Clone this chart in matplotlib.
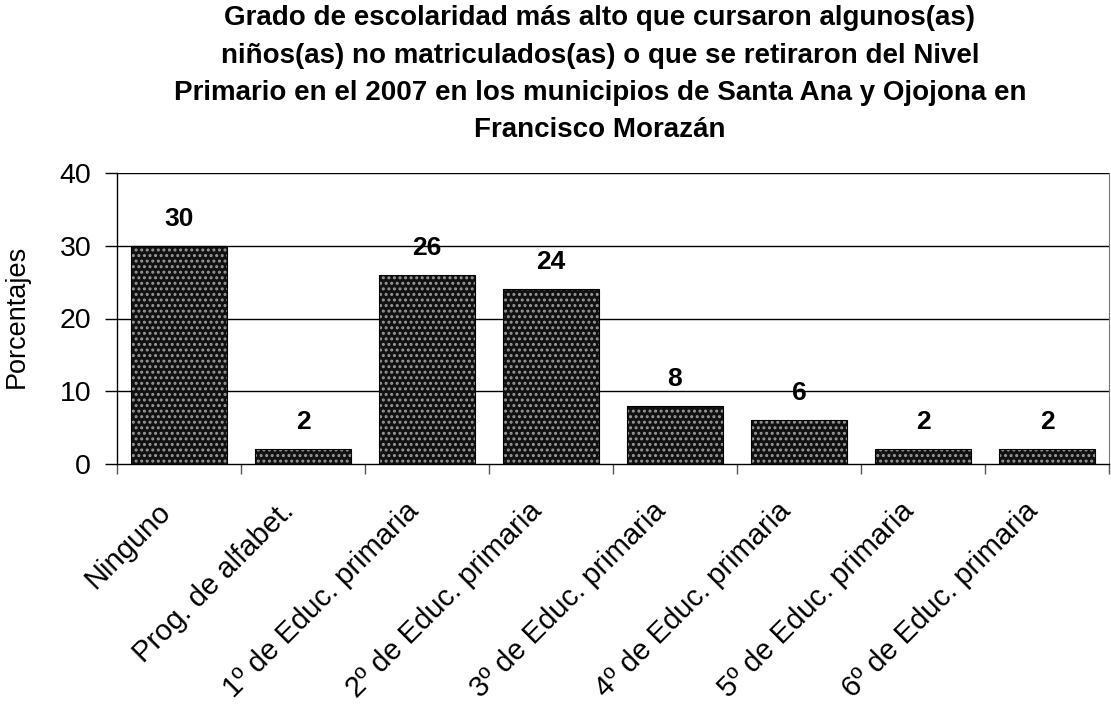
import matplotlib.pyplot as plt
import matplotlib.transforms as mtransforms
import numpy as np

plt.rcParams['font.family'] = ['Liberation Sans', 'DejaVu Sans']
plt.rcParams['hatch.linewidth'] = 1.4

categorias = ['Ninguno', 'Prog. de alfabet.', '1º de Educ. primaria', '2º de Educ. primaria',
              '3º de Educ. primaria', '4º de Educ. primaria', '5º de Educ. primaria',
              '6º de Educ. primaria']
porcentajes = [30, 2, 26, 24, 8, 6, 2, 2]

titulo = ['Grado de escolaridad más alto que cursaron algunos(as)',
          'niños(as) no matriculados(as) o que se retiraron del Nivel',
          'Primario en el 2007 en los municipios de Santa Ana y Ojojona en',
          'Francisco Morazán']

W, H = 1111, 711
fig = plt.figure(figsize=(W / 100, H / 100), dpi=100)
ax = fig.add_axes([117 / W, 1 - 464 / H, 992 / W, 291 / H])

x = np.arange(len(categorias))
ax.bar(x, porcentajes, width=0.775, color='#111111', edgecolor='#9a9a9a', hatch='...',
       linewidth=0, zorder=3)
ax.bar(x, porcentajes, width=0.775, fill=False, edgecolor='black', linewidth=0.8, zorder=4)

for xi, v in zip(x, porcentajes):
    ax.annotate(str(v), (xi, v), xytext=(0, 19.5), textcoords='offset points',
                ha='center', va='center', fontsize=19, fontweight='bold', zorder=5)

ax.set_xlim(-0.5, len(categorias) - 0.5)
ax.set_ylim(0, 40)
ax.set_yticks([0, 10, 20, 30, 40])
ax.tick_params(axis='y', labelsize=20.5, length=8.6, width=1, direction='out', pad=10)
for yv in [10, 20, 30, 40]:
    ax.axhline(yv, color='black', lw=1, zorder=1)

ax.set_xticks(x)
ax.set_xticklabels(categorias, rotation=45, ha='right', va='center',
                   rotation_mode='anchor', fontsize=21)
ax.tick_params(axis='x', length=0, pad=31)
shift = mtransforms.ScaledTranslation(-13 / 100, 0, fig.dpi_scale_trans)
for lab in ax.get_xticklabels():
    lab.set_transform(lab.get_transform() + shift)
ax.set_xticks(np.arange(len(categorias) + 1) - 0.5, minor=True)
ax.tick_params(axis='x', which='minor', length=7, width=1, direction='out', color='#555555')

ax.spines['top'].set_visible(False)
ax.spines['right'].set_color('#777777')
ax.spines['left'].set_linewidth(1)
ax.spines['bottom'].set_linewidth(1)

fig.text(17 / W, 1 - 316 / H, 'Porcentajes', rotation=90, ha='center', va='center',
         fontsize=19.5)

# title lines placed by baseline
for linea, yb in zip(titulo, [25, 63, 100, 137]):
    fig.text(600 / W, 1 - yb / H, linea, ha='center', va='baseline', fontsize=20,
             fontweight='bold')

fig.savefig('out.png', dpi=100)
